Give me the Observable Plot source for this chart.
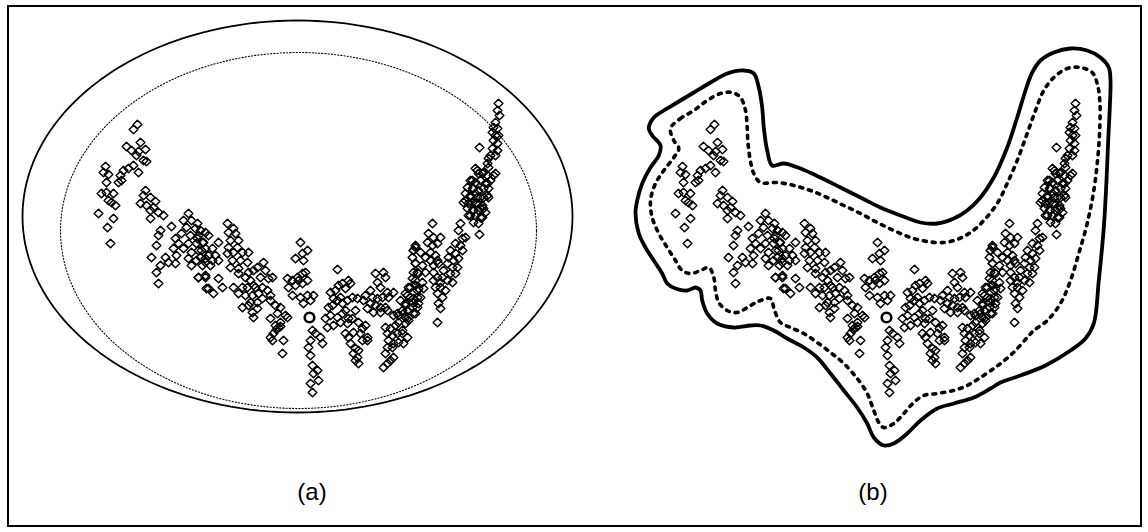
<!DOCTYPE html>
<html><head><meta charset="utf-8">
<script src="https://cdn.jsdelivr.net/npm/d3@7"></script>
<script src="https://cdn.jsdelivr.net/npm/@observablehq/plot@0.6"></script>
<style>
body{margin:0;background:#fff;}
#wrap{position:relative;width:1148px;height:532px;overflow:hidden;font-family:"Liberation Sans",Arial,sans-serif;background:#fff;}
#frame{position:absolute;left:7px;top:5px;width:1131px;height:518px;border:2px solid #000;}
.panel{position:absolute;top:0;}
.lab{position:absolute;top:478px;font-size:24px;width:60px;text-align:center;line-height:28px;color:#000;}
</style></head><body>
<div id="wrap"><div id="frame"></div></div>
<script>
// Observations: [time index, value]
const samples = [
[40,29.6],[36,29.1],[43,27.8],[29,27.4],[34,27.0],[41,26.9],[48,27.1],[39,26.5],[46,26.0],[49,25.9],[36,25.5],[31,25.2],[26,25.0],[41,24.8],[23,24.5],[24,24.0],[21,23.8],[8,25.4],[6,24.8],[11,24.6],[9,23.8],[9,22.8],[4,22.7],[16,22.7],[11,22.0],[14,21.8],[18,21.5],[1,20.7],[16,20.2],[10,19.3],[13,17.7],[48,23.0],[46,22.5],[53,22.3],[58,21.9],[43,21.7],[49,21.5],[56,21.3],[53,21.0],[61,20.8],[66,20.5],[53,20.2],[63,19.0],[61,18.5],[74,19.4],[59,17.5],[54,16.3],[68,16.3],[71,15.8],[63,15.5],[59,14.8],[61,13.7],[78,15.7],[91,20.7],[86,20.0],[94,20.0],[89,19.3],[98,19.2],[84,18.7],[93,18.5],[101,18.5],[108,18.8],[78,18.2],[81,17.7],[91,17.7],[99,17.7],[106,17.8],[76,17.2],[86,17.2],[94,16.8],[104,17.0],[91,16.2],[99,16.0],[108,16.2],[79,16.5],[94,15.5],[101,14.3],[108,14.5],[109,13.2],
[100,19.7],[103,19.0],[100,18.2],[105,17.8],[111,18.5],[101,17.0],[108,17.2],[115,17.2],[103,16.3],[111,16.5],[118,16.5],[108,15.8],[115,16.0],[121,16.0],[105,15.5],[113,15.5],[101,14.3],[108,14.3],[121,17.8],[121,14.2],[111,13.2],[116,12.7],[125,13.3],[130,19.7],[136,19.2],[131,18.8],[138,18.7],[133,18.0],[141,18.0],[131,17.3],[140,17.3],[130,16.7],[136,16.8],[145,16.8],[151,16.8],[135,16.0],[143,16.0],[150,15.8],[133,15.3],[141,15.2],[151,14.8],[156,15.0],[166,15.8],[160,15.3],[168,15.0],[163,14.3],[171,14.2],[175,14.3],[141,14.7],[148,14.3],[153,14.0],[156,13.5],[136,13.3],[145,13.3],[150,13.3],[158,13.3],[165,13.3],[141,12.7],[148,12.5],[155,12.5],[161,12.7],[170,13.0],[173,12.5],[153,11.8],[160,11.8],[165,12.2],[145,11.3],[151,11.5],[160,11.2],[155,10.8],[156,10.3],[173,12.0],[178,11.5],[183,11.3],[180,10.7],[188,10.5],[190,10.3],[173,10.2],[183,9.8],[178,9.5],[181,9.3],[179,9.1],[183,9.4],[176,8.7],[173,8.3],[186,8.0],[175,8.0],[185,6.7],[203,17.8],[210,17.0],[198,16.2],[205,16.7],[206,16.0],[190,14.2],[195,14.0],[200,14.3],[205,14.7],[208,14.8],[191,13.3],[198,13.5],[201,14.0],[205,13.7],[210,14.0],[195,12.5],[203,12.3],[210,12.5],[216,12.5],[206,11.7],[213,12.0],[215,9.0],[213,8.0],[211,7.3],[213,6.5],[215,5.5],[216,4.7],[213,3.7],[215,2.8],
[223,8.3],[225,7.7],[218,8.7],[220,5.0],[221,4.0],[240,15.1],[233,12.8],[238,13.0],[241,13.5],[245,13.7],[248,13.2],[251,14.0],[253,13.7],[236,12.2],[231,11.3],[235,11.5],[240,12.0],[243,12.3],[245,11.7],[250,12.0],[255,12.3],[260,12.2],[228,10.2],[233,10.5],[240,10.3],[245,10.7],[248,11.0],[251,10.2],[258,11.0],[230,9.3],[236,9.5],[243,9.8],[250,9.7],[255,10.2],[261,9.8],[265,9.2],[268,9.5],[248,8.7],[251,8.3],[256,8.8],[263,8.7],[270,8.3],[253,7.7],[258,7.2],[261,7.0],[265,8.0],[270,8.0],[256,6.7],[260,6.3],[261,5.7],[258,6.0],[278,14.7],[286,14.8],[288,14.3],[280,13.8],[283,13.3],[290,12.8],[273,13.0],[268,12.5],[275,12.3],[280,12.2],[285,12.3],[291,12.3],[266,12.0],[273,11.7],[278,11.5],[283,11.3],[288,11.3],[270,11.2],[276,10.8],[283,10.8],[290,11.0],[296,12.8],[296,10.5],[300,10.7],[301,9.8],[288,9.3],[293,9.2],[298,9.5],[290,8.7],[295,8.5],[300,8.7],[305,8.7],[291,8.0],[296,7.7],[301,7.8],[290,7.3],[295,7.3],[288,6.7],[293,6.0],[296,6.3],[286,5.3],[290,5.7],[318,17.5],[316,17.0],[315,16.3],[318,15.7],[320,14.8],[315,14.2],[311,13.3],[318,13.5],[321,13.2],[308,12.7],[313,12.3],[320,12.3],[303,12.0],[308,11.7],[315,11.8],[321,11.7],[305,11.0],[310,11.0],[301,10.5],[308,10.3],[311,10.0],[316,10.7],
[401,31.7],[400,31.0],[402,30.5],[398,29.8],[396,29.3],[400,29.2],[395,28.8],[398,28.5],[401,28.5],[396,28.0],[400,27.7],[395,27.2],[400,27.0],[393,26.5],[398,26.5],[391,26.2],[382,27.3],[391,25.3],[380,25.0],[385,24.7],[390,24.5],[396,24.5],[393,24.0],[388,23.7],[373,24.0],[378,23.8],[383,24.0],[370,23.3],[375,23.2],[381,23.0],[386,23.2],[368,22.7],[373,22.3],[380,22.3],[386,22.3],[391,22.3],[366,21.8],[371,21.7],[378,21.7],[385,21.5],[370,21.2],[375,21.0],[381,21.0],[386,21.2],[371,20.5],[378,20.5],[383,20.3],[376,19.8],[381,19.7],[382,18.6],
[390,25.7],[378,25.2],[381,24.7],[386,24.8],[398,24.7],[375,24.0],[390,23.7],[376,23.2],[391,23.2],[373,22.5],[378,22.7],[383,22.3],[390,22.5],[368,22.0],[375,21.8],[380,21.7],[376,21.0],[383,21.2],[388,20.8],[373,20.5],[385,20.3],
[335,19.7],[363,19.7],[361,19.0],[365,18.2],[368,18.3],[358,17.7],[363,17.5],[353,17.0],[358,16.7],[365,17.0],[351,16.3],[356,16.0],[361,16.2],[350,15.7],[355,15.3],[360,15.3],[346,15.0],[353,14.7],[358,14.7],[345,14.3],[350,14.0],[355,13.8],[343,13.3],[348,13.0],[345,12.3],[341,11.7],[343,11.2],[340,9.8],[331,18.7],[336,18.3],[343,18.3],[330,17.8],[335,17.5],[340,17.7],[318,17.3],[316,17.0],[323,16.8],[333,16.8],[338,16.5],[328,16.3],[333,16.0],[340,16.0],[318,15.7],[325,15.5],[336,15.5],[341,15.7],[316,14.8],[321,14.7],[328,14.8],[336,14.8],[340,14.3],[318,14.0],[325,13.8],[336,14.0],[343,13.8],[313,13.3],[320,13.0],[326,13.2],[338,13.3],[310,12.5],[316,12.2],[323,12.3],[340,12.7],[308,11.5],[315,11.3],[320,11.3],[306,10.7],[311,10.3],[318,10.7],[308,9.7],[305,9.0],[310,8.3],[306,7.7]
];
const highlighted = [{t: 212, y: 10.3}];

// Panel (a): fitted ellipses [centre t, centre y, radius t, radius y]
const outerEllipse = [200, 20.4, 275, 19.6];
const innerEllipse = [201, 19.0, 238, 17.8];

// Panel (b): outer (solid) and inner (dotted) contour vertices
const outerT = [-20.7,-14,2.7,19.3,36,52.7,69.3,79.3,84.3,87.7,89.3,92.7,97.7,109.3,126,146,166,186,206,226,246,262.7,279.3,292.7,306,319.3,332.7,342.7,351,357.7,366,379.3,396,412.7,426,434.3,436,435.3,433.7,432,429.3,424.3,419.3,411,396,371,346,326,316,299.3,279.3,262.7,246,232.7,219.3,209.3,199.3,192.7,182.7,169.3,156,142.7,129.3,112.7,99.3,86,76,59.3,42.7,32.7,27.7,26,21,12.7,1,-7.3,-12.3,-20.7,-29,-35.7,-39,-37.3,-32.3,-24,-15.7,-14,-22.3,-25.7];
const outerY = [30.3,30.8,31.8,32.8,33.8,34.7,35.0,34.7,33.3,31.3,29.3,27.0,25.5,25.7,25.2,24.3,23.3,22.3,21.3,20.5,19.8,19.7,20.2,21.0,22.3,24.3,27.3,30.3,33.0,34.8,36.0,36.8,37.2,37.0,36.3,35.3,34.0,31.3,28.0,24.0,19.3,14.0,9.7,8.2,7.0,5.5,4.5,3.8,3.2,2.3,1.7,1.2,0.0,-1.3,-2.3,-2.5,-1.7,-0.3,1.3,3.0,4.7,6.3,7.3,8.2,9.0,9.5,9.5,9.3,9.7,10.7,12.0,13.0,13.3,13.0,13.2,13.7,14.7,16.0,17.3,18.7,20.7,22.0,23.7,25.3,26.5,27.5,28.5,29.2];
const innerT = [-4,6,19.3,32.7,46,57.7,66,71,72.7,73.3,75.3,79.3,86,102.7,119.3,136,152.7,169.3,186,202.7,219.3,236,252.7,269.3,282.7,296,309.3,322.7,332.7,342.7,352.7,361,369.3,379.3,392.7,406,417.7,422.7,425.3,425.3,423.3,419.3,412.7,404.3,396,386,372.7,359.3,352.7,339,326,319.3,306,292.7,279.3,262.7,249.3,239.3,229.3,219.3,209.3,204.3,199.3,192.7,182.7,169.3,156,142.7,129.3,116,106,100,96,86,76,62.7,52.7,44.3,41,39.3,34.3,26,16,7.7,1,-7.3,-15.7,-22.3,-24,-19,-10.7,-0.7,4.3,-0.7];
const innerY = [29.2,30.2,31.0,32.0,32.7,32.8,32.3,31.0,29.3,28.0,26.3,24.7,23.8,23.8,23.5,23.0,22.3,21.5,20.7,19.8,19.0,18.3,17.9,17.8,18.1,18.8,20.0,21.7,23.7,26.0,28.7,31.0,33.0,34.3,35.2,35.3,34.8,33.7,32.0,29.3,26.3,23.0,19.7,16.7,14.0,11.7,10.0,9.0,8.3,6.8,5.7,5.2,4.3,3.5,3.0,2.7,2.5,1.8,0.7,-0.3,-0.7,-0.2,1.0,2.7,4.2,5.7,6.8,7.8,8.7,9.3,9.8,11.0,12.2,12.0,11.5,10.8,11.0,11.8,13.0,14.3,15.3,15.0,14.7,15.0,16.0,17.3,18.7,20.3,22.0,23.7,25.0,26.3,27.2,28.0];

const labels = ["(a)", "(b)"];

function ellipsePath([ct, cy, rt, ry]) {
  return d3.range(0, 361, 2).map(a => {
    const r = a * Math.PI / 180;
    return {t: ct + rt * Math.cos(r), y: cy + ry * Math.sin(r)};
  });
}
const zipPts = (ts, ys) => ts.map((t, i) => ({t, y: ys[i]}));

function panel(kind, width) {
  const marks = [];
  if (kind === "a") {
    marks.push(Plot.line(ellipsePath(outerEllipse), {x: "t", y: "y", stroke: "#000", strokeWidth: 1.8}));
    marks.push(Plot.line(ellipsePath(innerEllipse), {x: "t", y: "y", stroke: "#000", strokeWidth: 1.1, strokeDasharray: "1.2,2"}));
  } else {
    marks.push(Plot.line(zipPts(outerT, outerY), {x: "t", y: "y", curve: "catmull-rom-closed", stroke: "#000", strokeWidth: 3.8}));
    marks.push(Plot.line(zipPts(innerT, innerY), {x: "t", y: "y", curve: "catmull-rom-closed", stroke: "#000", strokeWidth: 3.6, strokeDasharray: "3,6"}));
  }
  marks.push(Plot.dot(samples, {x: d => d[0], y: d => d[1], symbol: "diamond2", r: 3.9, stroke: "#000", strokeWidth: 1.5, strokeLinejoin: "round", fill: "none"}));
  marks.push(Plot.dot(highlighted, {x: "t", y: "y", r: 4.8, stroke: "#000", strokeWidth: 2.6, fill: "none"}));
  return Plot.plot({
    width, height: 532, margin: 0,
    x: {domain: [-97, width - 97], axis: null},
    y: {domain: [-11.2, 42], axis: null},
    style: {background: "transparent", overflow: "visible"},
    marks
  });
}

const wrap = document.getElementById("wrap");
const pa = panel("a", 575); pa.classList.add("panel"); pa.style.left = "0px";
const pb = panel("b", 571); pb.classList.add("panel"); pb.style.left = "577px";
wrap.appendChild(pa); wrap.appendChild(pb);
[[labels[0], 282], [labels[1], 843]].forEach(([txt, left]) => {
  const d = document.createElement("div");
  d.className = "lab"; d.textContent = txt; d.style.left = left + "px";
  wrap.appendChild(d);
});
</script>
</body></html>
